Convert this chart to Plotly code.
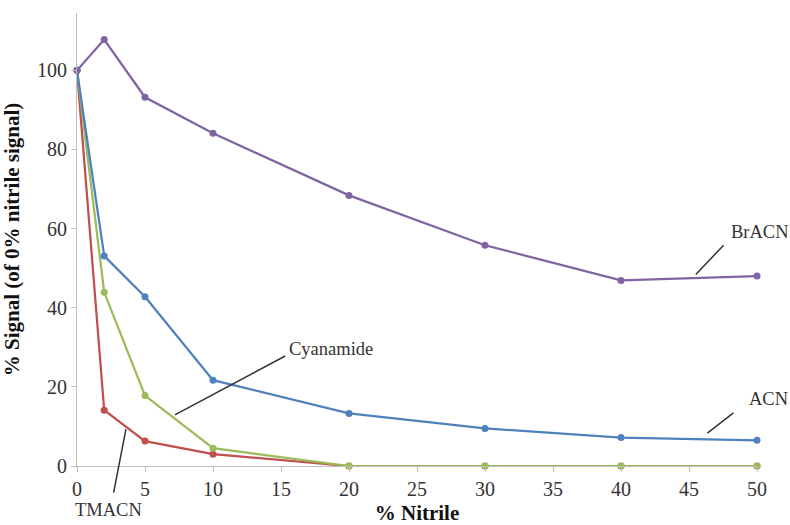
import plotly.graph_objects as go

nitrile = [0, 2, 5, 10, 20, 30, 40, 50]
bracn = [100, 107.8, 93.2, 84.1, 68.4, 55.8, 46.9, 48.0]
acn = [100, 53.1, 42.8, 21.7, 13.3, 9.5, 7.2, 6.5]
cyanamide = [100, 43.9, 17.8, 4.5, 0, 0, 0, 0]
tmacn = [100, 14.1, 6.3, 3.0, 0, 0, 0, 0]

x_ticks = [0, 5, 10, 15, 20, 25, 30, 35, 40, 45, 50]
y_ticks = [0, 20, 40, 60, 80, 100]

# label text position (paper fraction), leader line start (data), leader line end (data)
labels = [
    ("BrACN", (1.005, 0.5155), (45.5, 48.4), (47.65, 56.2)),
    ("ACN", (1.0176, 0.1479), (46.35, 8.3), (48.38, 13.7)),
    ("Cyanamide", (0.3741, 0.2587), (7.2, 12.9), (15.42, 28.0)),
    ("TMACN", (0.047, -0.0971), (3.6, 9.3), (2.67, -7.1)),
]

series = [
    ("TMACN", tmacn, "#C0504D"),
    ("Cyanamide", cyanamide, "#9BBB59"),
    ("ACN", acn, "#4F81BD"),
    ("BrACN", bracn, "#8064A2"),
]

fig = go.Figure()
for name, vals, col in series:
    fig.add_trace(go.Scatter(
        x=nitrile, y=vals, name=name, mode="lines+markers",
        line=dict(color=col, width=2.25),
        marker=dict(color=col, size=7),
        cliponaxis=False, showlegend=False,
    ))

serif = "Liberation Serif, Times New Roman, serif"
anns = []
for text, (tx, ty), (lx0, ly0), (lx1, ly1) in labels:
    anns.append(dict(x=tx, y=ty, xref="paper", yref="paper", text=text, showarrow=False,
                     xanchor="center", yanchor="middle",
                     font=dict(family=serif, size=18.5, color="#333333")))
    anns.append(dict(x=lx0, y=ly0, ax=lx1, ay=ly1, xref="x", yref="y",
                     axref="x", ayref="y", text="", showarrow=True,
                     arrowhead=0, arrowwidth=1.5, arrowcolor="#333333",
                     standoff=0, startstandoff=0))

fig.update_layout(
    width=790, height=525,
    margin=dict(l=77, r=33, t=13, b=59),
    paper_bgcolor="white", plot_bgcolor="white",
    font=dict(family=serif, size=18, color="#333333"),
    annotations=anns,
    xaxis=dict(
        range=[0, 50], tickvals=x_ticks, ticktext=[str(v) for v in x_ticks],
        showgrid=False, zeroline=False, showline=True, linecolor="#BFBFBF",
        linewidth=1, ticks="outside", ticklen=5, tickcolor="#BFBFBF",
        tickfont=dict(family=serif, size=20, color="#333333"),
        automargin=False,
        title=dict(text="<b>% Nitrile</b>",
                   font=dict(family=serif, size=21, color="#111111")),
    ),
    yaxis=dict(
        range=[0, 114.5], tickvals=y_ticks, ticktext=[str(v) for v in y_ticks],
        showgrid=False, zeroline=False, showline=True, linecolor="#BFBFBF",
        linewidth=1, ticks="outside", ticklen=5, tickcolor="#BFBFBF",
        tickfont=dict(family=serif, size=20, color="#333333"),
        automargin=False,
        title=dict(text="<b>% Signal (of 0% nitrile signal)</b>",
                   font=dict(family=serif, size=21, color="#111111")),
    ),
)

fig.write_html("out.html")
